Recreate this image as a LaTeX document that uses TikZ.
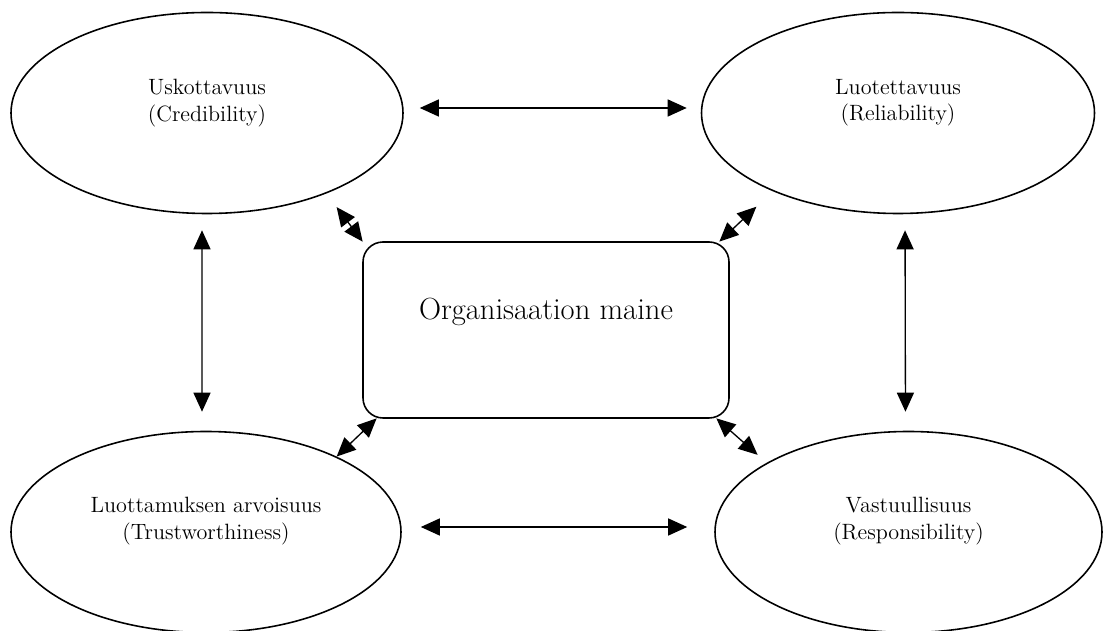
\documentclass[tikz,border=0pt]{standalone}
\usepackage{tikz}
\usetikzlibrary{shapes.geometric,arrows.meta}

\begin{document}
\begin{tikzpicture}[
  oval/.style={ellipse, draw, line width=0.9pt, minimum width=7.84cm, minimum height=4.02cm, inner sep=0pt},
  lbl/.style={align=center, font=\fontsize{12.6}{15}\selectfont},
  twoway/.style={{Triangle[length=0.38cm,width=0.34cm]}-{Triangle[length=0.38cm,width=0.34cm]}, line width=0.75pt}
]
\useasboundingbox (0, 0) rectangle (22.06, 12.62);
\node[oval] (cred) at (4.14, 10.36) {};
\node[oval, minimum width=7.86cm] (rel) at (17.96, 10.36) {};
\node[oval, minimum width=7.8cm] (trust) at (4.12, 1.98) {};
\node[oval, minimum width=7.74cm] (resp) at (18.17, 1.98) {};
\node[lbl] (credtext) at ([yshift=0.2cm]cred.center) {Uskottavuus\\(Credibility)};
\node[lbl] (reltext) at ([yshift=0.2cm]rel.center) {Luotettavuus\\(Reliability)};
\node[lbl] (trusttext) at ([yshift=0.22cm]trust.center) {Luottamuksen arvoisuus\\(Trustworthiness)};
\node[lbl] (resptext) at ([yshift=0.22cm]resp.center) {Vastuullisuus\\(Responsibility)};
\draw[line width=0.9pt, rounded corners=0.4cm] (7.26, 4.26) rectangle (14.58, 7.78);
\node[minimum width=7.32cm, minimum height=3.52cm] (org) at (10.92, 6.02) {};
\node[font=\fontsize{17.4}{20}\selectfont] (orgtext) at ([yshift=0.36cm]org.center) {Organisaation maine};
\draw[twoway, shorten <=0.32cm, shorten >=0.28cm] ([yshift=0.1cm]cred.east) -- ([yshift=0.1cm]rel.west);
\draw[twoway, shorten <=0.38cm, shorten >=0.54cm] ([yshift=0.1cm]trust.east) -- ([yshift=0.1cm]resp.west);
\draw[twoway, shorten <=0.32cm, shorten >=0.38cm] ([xshift=-0.1cm]cred.south) -- ([xshift=-0.08cm]trust.north);
\draw[twoway, shorten <=0.32cm, shorten >=0.38cm] ([xshift=0.14cm]rel.south) -- ([xshift=-0.06cm]resp.north);
\draw[twoway, shorten <=0.34cm] (cred.-34) -- (org.north west);
\draw[twoway, shorten <=0.45cm] (rel.212) -- ([xshift=-0.2cm]org.north east);
\draw[twoway] (trust.30) -- ([xshift=0.28cm]org.south west);
\draw[twoway, shorten >=0.24cm] ([xshift=-0.26cm]org.south east) -- (resp.154);
\end{tikzpicture}
\end{document}
